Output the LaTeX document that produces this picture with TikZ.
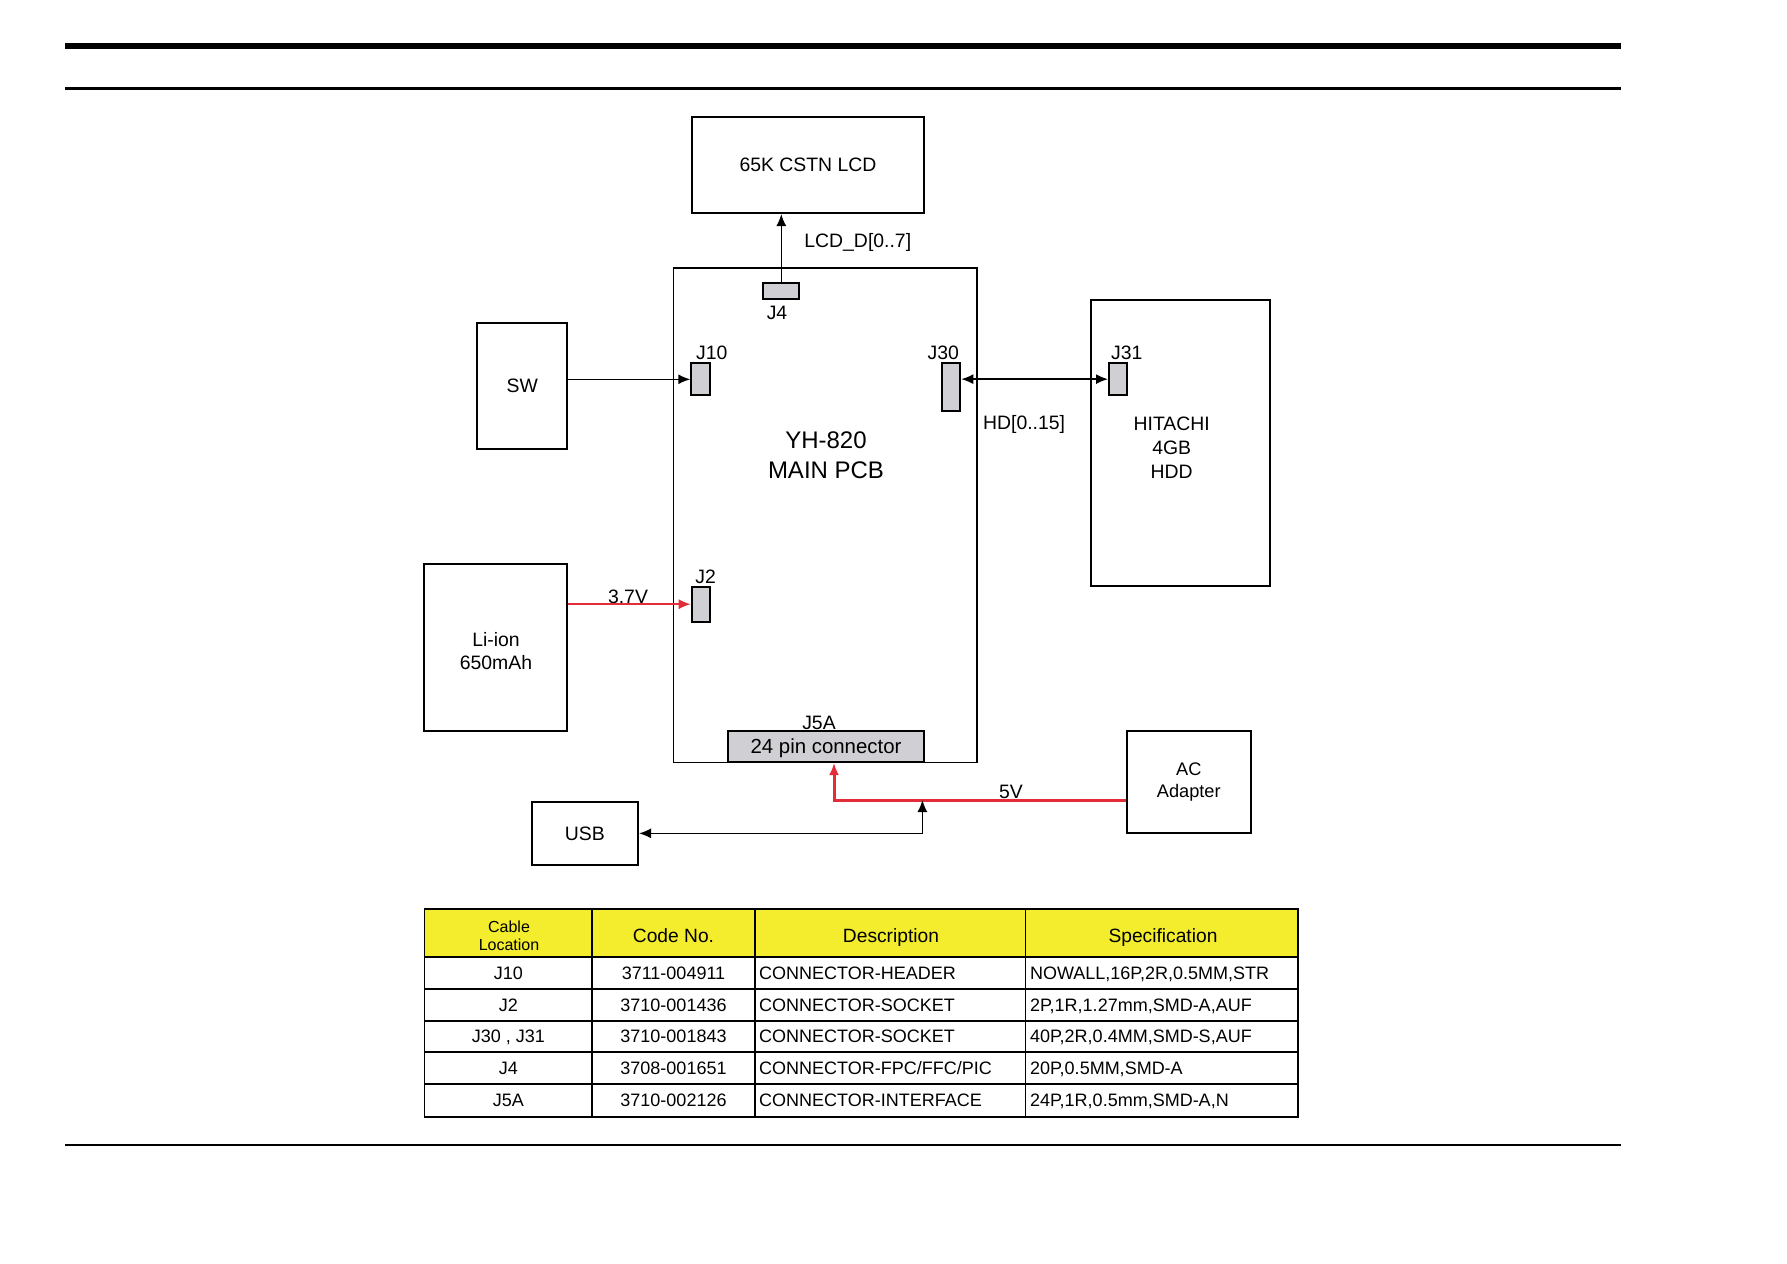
\documentclass[tikz,border=0pt]{standalone}
\usepackage{fontspec}
\setmainfont{Liberation Sans}
\usetikzlibrary{arrows.meta,positioning}
\definecolor{jgray}{RGB}{208,208,212}
\definecolor{pwrred}{RGB}{226,44,56}
\definecolor{hdryellow}{RGB}{243,237,46}

\begin{document}
\begin{tikzpicture}[x=0.5pt, y=-0.5pt,
    font=\fontsize{9.7}{11.6}\selectfont,
    >={Latex[length=6pt,width=5pt]},
    block/.style={rectangle, draw, line width=1pt, inner sep=0pt, align=center},
    conn/.style={rectangle, draw, line width=1pt, fill=jgray, inner sep=0pt},
    lbl/.style={inner sep=0pt},
    line/.style={draw, line width=0.75pt, ->},
    cell/.style={inner sep=0pt, text height=6.4pt, text depth=0pt, font=\fontsize{9}{10.8}\selectfont},
    head/.style={inner sep=0pt, text height=6.9pt, text depth=0pt, font=\fontsize{9.6}{11.5}\selectfont}]

    \useasboundingbox (0,0) rectangle (1787,1263);

    % page rules
    \draw[line width=3pt] (65,46) -- (1621,46);
    \draw[line width=1.75pt] (65,88.5) -- (1621,88.5);
    \draw[line width=0.6pt] (65,1145) -- (1621,1145);

    % blocks
    \node [block, minimum width=116pt, minimum height=48pt] (lcd) at (808,165) {65K CSTN LCD};
    \node [block, line width=0.75pt, minimum width=151.75pt, minimum height=247.25pt] (pcb) at (825.25,515.25) {};
    \node [lbl, align=center, font=\fontsize{12}{15.3}\selectfont] (pcbname) at (826,455.3) {YH-820\\MAIN PCB};
    \node [block, minimum width=45pt, minimum height=63pt] (sw) at (522.3,386.3) {SW};
    \node [block, minimum width=89.4pt, minimum height=143.25pt] (hdd) at (1180.1,442.75) {};
    \node [lbl, align=center, font=\fontsize{9.7}{12}\selectfont] (hddname) at (1171.7,447.7) {HITACHI\\4GB\\HDD};
    \node [block, minimum width=71.35pt, minimum height=83.5pt] (liion) at (495.65,647.5) {};
    \node [lbl, align=center, font=\fontsize{9.7}{11.7}\selectfont] (liionname) at (496,651) {Li-ion\\650mAh};
    \node [block, minimum width=53.2pt, minimum height=31.65pt] (usb) at (584.8,833.35) {USB};
    \node [block, minimum width=62.25pt, minimum height=50.85pt, font=\fontsize{9.1}{11.2}\selectfont] (ac) at (1188.75,781.85) {AC\\Adapter};

    % connectors on the board
    \node [conn, minimum width=18pt, minimum height=8.15pt] (j4) at (781.3,291.15) {};
    \node [conn, minimum width=9.5pt, minimum height=16pt] (j10) at (700.8,379.3) {};
    \node [conn, minimum width=9.3pt, minimum height=23.85pt] (j30) at (951,387.15) {};
    \node [conn, minimum width=9pt, minimum height=15.85pt] (j31) at (1118,379.15) {};
    \node [conn, minimum width=9.15pt, minimum height=17.5pt] (j2) at (700.85,604.2) {};
    \node [conn, minimum width=98pt, minimum height=15.5pt, text height=7.3pt, text depth=0pt, font=\fontsize{10.2}{12}\selectfont] (j5a) at (826,746.5) {24 pin connector};

    \node [lbl] (j4lbl) at (777,313.3) {J4};
    \node [lbl] (j10lbl) at (711.7,353.3) {J10};
    \node [lbl] (j30lbl) at (943.3,353.3) {J30};
    \node [lbl] (j31lbl) at (1126.7,353.3) {J31};
    \node [lbl] (j2lbl) at (705.7,576.7) {J2};
    \node [lbl] (j5albl) at (819,722.7) {J5A};

    % signal labels
    \node [lbl, anchor=west] (lcdbus) at (804,242.7) {LCD\_D[0..7]};
    \node [lbl, anchor=west] (hdbus) at (982.7,424.3) {HD[0..15]};
    \node [lbl] (v37) at (628,597) {3.7V};
    \node [lbl] (v5) at (1011,791.5) {5V};

    \coordinate (tap) at (834,800);
    \coordinate (usbtap) at (922.4,800);

    \path [line] (j4.north) -- (lcd.south -| j4.north);
    \path [line] (sw.east |- j10.west) -- (j10.west);
    \path [line, <->] (j30.east |- j31.west) -- (j31.west);
    \path [line, pwrred] (liion.east |- j2.west) -- (j2.west);
    \path [line, pwrred, line width=1.5pt] (ac.west |- tap) -- (tap) -- (tap |- j5a.south);
    \path [line, <->] (usb.east) -| (usbtap);

    % cable table
    \fill [hdryellow] (424.6,909.3) rectangle (1298,957.3);
    \draw [line width=0.85pt] (424.6,909.3) rectangle (1298,1116.7);
    \draw [line width=0.85pt] (424.6,957.3) -- (1298,957.3);
    \draw [line width=0.85pt] (424.6,989.3) -- (1298,989.3);
    \draw [line width=0.85pt] (424.6,1020.7) -- (1298,1020.7);
    \draw [line width=0.85pt] (424.6,1052.3) -- (1298,1052.3);
    \draw [line width=0.85pt] (424.6,1083.7) -- (1298,1083.7);
    \draw [line width=0.85pt] (592.2,909.3) -- (592.2,1116.7);
    \draw [line width=0.85pt] (754.7,909.3) -- (754.7,1116.7);
    \draw [line width=0.85pt] (1025.6,909.3) -- (1025.6,1116.7);

    \node [lbl, align=center, font=\fontsize{8}{9.15}\selectfont] (hloc) at (509,935.8) {Cable\\Location};
    \node [head] (hcode) at (673.5,936) {Code No.};
    \node [head] (hdesc) at (891,936) {Description};
    \node [head] (hspec) at (1163,936) {Specification};

    \node [cell] (r1loc) at (508.4,973.3) {J10};
    \node [cell] (r1code) at (673.5,973.3) {3711-004911};
    \node [cell, anchor=west] (r1desc) at (758.7,973.3) {CONNECTOR-HEADER};
    \node [cell, anchor=west] (r1spec) at (1029.6,973.3) {NOWALL,16P,2R,0.5MM,STR};

    \node [cell] (r2loc) at (508.4,1005) {J2};
    \node [cell] (r2code) at (673.5,1005) {3710-001436};
    \node [cell, anchor=west] (r2desc) at (758.7,1005) {CONNECTOR-SOCKET};
    \node [cell, anchor=west] (r2spec) at (1029.6,1005) {2P,1R,1.27mm,SMD-A,AUF};

    \node [cell] (r3loc) at (508.4,1036.5) {J30 , J31};
    \node [cell] (r3code) at (673.5,1036.5) {3710-001843};
    \node [cell, anchor=west] (r3desc) at (758.7,1036.5) {CONNECTOR-SOCKET};
    \node [cell, anchor=west] (r3spec) at (1029.6,1036.5) {40P,2R,0.4MM,SMD-S,AUF};

    \node [cell] (r4loc) at (508.4,1068) {J4};
    \node [cell] (r4code) at (673.5,1068) {3708-001651};
    \node [cell, anchor=west] (r4desc) at (758.7,1068) {CONNECTOR-FPC/FFC/PIC};
    \node [cell, anchor=west] (r4spec) at (1029.6,1068) {20P,0.5MM,SMD-A};

    \node [cell] (r5loc) at (508.4,1100.2) {J5A};
    \node [cell] (r5code) at (673.5,1100.2) {3710-002126};
    \node [cell, anchor=west] (r5desc) at (758.7,1100.2) {CONNECTOR-INTERFACE};
    \node [cell, anchor=west] (r5spec) at (1029.6,1100.2) {24P,1R,0.5mm,SMD-A,N};
\end{tikzpicture}
\end{document}
